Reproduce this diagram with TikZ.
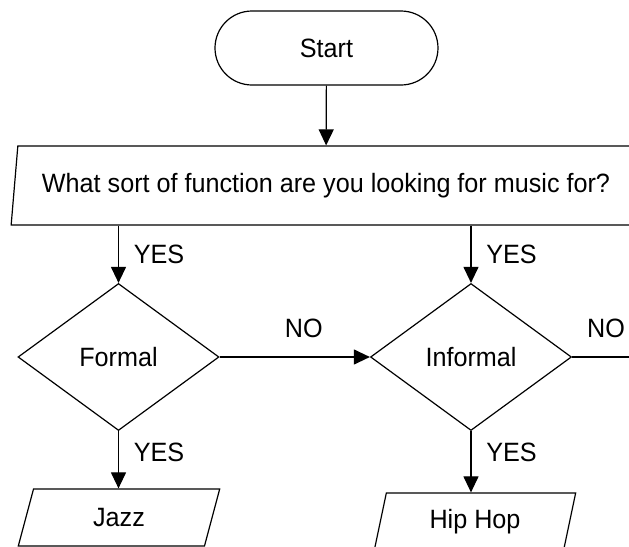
\documentclass[tikz,border=0pt]{standalone}
\usepackage{fontspec}
\setmainfont[FakeStretch=0.95]{Liberation Sans}
\usetikzlibrary{shapes.geometric,shapes.misc,arrows.meta}

\begin{document}
\begin{tikzpicture}[x=0.5pt,y=-0.5pt,
	txt/.style={font=\fontsize{13.25}{16}\selectfont},
	box/.style={draw,line width=0.6pt,inner sep=0pt,txt},
	io/.style={box,trapezium,trapezium left angle=76,trapezium right angle=104,trapezium stretches=true},
	arr/.style={line width=0.6pt,-{Triangle[length=8pt,width=7.5pt]}}]
	\clip (0,0) rectangle (629,547);

	\node[box,rounded rectangle,minimum width=111.5pt,minimum height=37pt] (start) at (326.5,48) {Start};
	\node[io,minimum width=316pt,minimum height=39.5pt] (ask) at (326,185.5) {What sort of function are you looking for music for?};

	\node[box,diamond,minimum width=100.5pt,minimum height=73.5pt] (formal) at (118.5,357) {Formal};
	\node[box,diamond,minimum width=100.5pt,minimum height=73.5pt] (informal) at (471,357) {Informal};

	\node[io,minimum width=101pt,minimum height=28.5pt] (jazz) at (119,517.5) {Jazz};
	\node[io,minimum width=101pt,minimum height=28.5pt] (hiphop) at (475,521.5) {Hip Hop};

	\coordinate (out) at (640,357);

	\draw[arr] (start) -- (ask);
	\foreach \i in {formal,informal}
	{
		\draw[arr] (ask.south -| \i) -- node[txt,right=4pt]{YES} (\i);
	};
	\draw[arr] (formal) -- node[txt,above=6pt,pos=0.56]{NO} (informal);
	\draw[line width=0.6pt] (informal) -- node[txt,above=6pt,pos=0.5]{NO} (out);
	\foreach \i / \j / \p in {formal/jazz/0.37, informal/hiphop/0.35}
	{
		\draw[arr] (\i) -- node[txt,right=4pt,pos=\p]{YES} (\i.south |- \j.north);
	};
\end{tikzpicture}
\end{document}
